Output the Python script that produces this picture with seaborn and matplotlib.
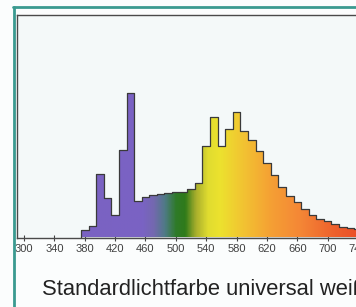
import numpy as np
import pandas as pd
import matplotlib
matplotlib.use("Agg")
import matplotlib.pyplot as plt
from matplotlib.colors import LinearSegmentedColormap
from matplotlib.lines import Line2D
import seaborn as sns

# 10 nm bins, centre wavelength in nm
wavelength = [380, 390, 400, 410, 420, 430, 440, 450, 460, 470,
              480, 490, 500, 510, 520, 530, 540, 550, 560, 570,
              580, 590, 600, 610, 620, 630, 640, 650, 660, 670,
              680, 690, 700, 710, 720, 730, 740]
# relative intensity
intensity = [8, 12, 64, 40, 23, 88, 145, 37, 41, 43,
             43.5, 45, 45.3, 46, 48.7, 54.3, 92, 121, 92, 108.7,
             125.3, 107, 97.7, 87, 74.7, 63, 51, 41.3, 35.3, 28.7,
             22.7, 18.7, 16.3, 13.7, 11, 9.7, 8.5]
tick_values = [300, 340, 380, 420, 460, 500, 540, 580, 620, 660, 700, 740]
caption = "Standardlichtfarbe universal weiß"

# spectrum colours along the wavelength axis
spec_nm = [375, 455, 470, 485, 500, 512, 526, 542, 558, 590, 625, 665, 710, 750]
spec_col = ["#7a62c2", "#7a63c4", "#7468b0", "#4f7a86", "#2e7a28", "#2f7a1a",
            "#a8ae2c", "#e0dc30", "#ece22e", "#f2c232", "#f5a034", "#f48636",
            "#ee602c", "#ea4a28"]

df = pd.DataFrame({"wavelength": wavelength, "intensity": intensity})
edges = [w - 5 for w in wavelength] + [wavelength[-1] + 5]

sns.set_style("white")
plt.rcParams["font.family"] = ["Liberation Sans", "DejaVu Sans"]

fig = plt.figure(figsize=(3.56, 3.07), dpi=100, facecolor="#fbfdfd")
W, H = 356, 307
ax = fig.add_axes([17 / W, 1 - 237.5 / H, 356 / W, 222.5 / H])
ax.set_facecolor("#f4f9f9")

sns.histplot(data=df, x="wavelength", weights="intensity", bins=edges,
             element="step", fill=True, ax=ax, color="#333333")
poly = ax.collections[-1]
poly.set_facecolor("none")
poly.set_edgecolor("#3a3a3a")
poly.set_linewidth(0.9)
poly.set_zorder(3)

# gradient fill clipped to the histogram outline
pos = [(v - spec_nm[0]) / (spec_nm[-1] - spec_nm[0]) for v in spec_nm]
cmap = LinearSegmentedColormap.from_list("spec", list(zip(pos, spec_col)))
grad = np.linspace(0, 1, 600)[None, :]
img = ax.imshow(grad, cmap=cmap, aspect="auto",
                extent=[spec_nm[0], spec_nm[-1], 0, 222], zorder=2,
                interpolation="bilinear")
img.set_clip_path(poly.get_paths()[0], transform=ax.transData)

ax.set_xlim(290.7, 290.7 + 356 / 0.759)
ax.set_ylim(0, 222.5)
ax.set_xticks(tick_values)
ax.set_xticklabels([str(t) for t in tick_values])
ax.set_yticks([])
ax.set_xlabel("")
ax.set_ylabel("")
ax.tick_params(axis="x", direction="inout", length=4, width=0.8,
               color="#444444", pad=3, labelsize=8, labelcolor="#404040",
               bottom=True)
for s in ax.spines.values():
    s.set_color("#4a4a4a")
    s.set_linewidth(1.0)

# teal border of the page
teal = "#3a9a90"
fig.add_artist(Line2D([14 / W, 14 / W], [0, 1 - 7 / H], color=teal, lw=2.0,
                      transform=fig.transFigure))
fig.add_artist(Line2D([13.3 / W, 1], [1 - 7.3 / H, 1 - 7.3 / H], color=teal,
                      lw=2.0, transform=fig.transFigure))

fig.text(41.5 / W, 1 - 295 / H, caption, fontsize=15.8, color="#222222",
         va="baseline", ha="left")

fig.savefig("out.png", dpi=100, facecolor=fig.get_facecolor())
